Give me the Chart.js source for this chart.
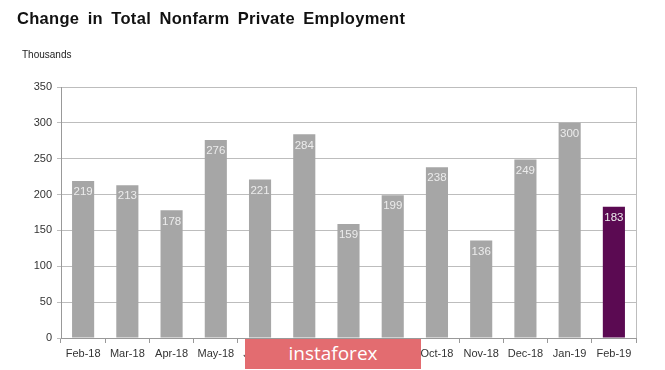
<!DOCTYPE html>
<html>
<head>
<meta charset="utf-8">
<script src="https://cdn.jsdelivr.net/npm/chart.js@4/dist/chart.umd.min.js"></script>
<style>
  html, body { margin: 0; padding: 0; background: #fff; }
  #wrap { position: relative; width: 665px; height: 370px; overflow: hidden; }
  #title { position: absolute; left: 17px; top: 9px; font: bold 16.5px "Liberation Sans", Arial, sans-serif; color: #111; letter-spacing: 0.3px; word-spacing: 3.5px; }
  #unit { position: absolute; left: 22px; top: 49px; font: 10px "Liberation Sans", Arial, sans-serif; color: #222; }
  #mark { position: absolute; left: 245px; top: 339px; width: 176px; height: 30px; background: #e36c70;
          color: #fff; font: 19px "Open Sans", "DejaVu Sans", sans-serif; text-align: center; line-height: 29px; }
</style>
</head>
<body>
<div id="wrap">
  <canvas id="grafico" width="665" height="370"></canvas>
  <div id="title">Change in Total Nonfarm Private Employment</div>
  <div id="unit">Thousands</div>
  <div id="mark">instaforex</div>
</div>
<script>
  // dados
  var meses = ['Feb-18', 'Mar-18', 'Apr-18', 'May-18', 'Jun-18', 'Jul-18', 'Aug-18',
               'Sep-18', 'Oct-18', 'Nov-18', 'Dec-18', 'Jan-19', 'Feb-19'];
  var valores = [219, 213, 178, 276, 221, 284, 159, 199, 238, 136, 249, 300, 183];
  var ticksY = [0, 50, 100, 150, 200, 250, 300, 350];

  var cores = valores.map(function (v, i) {
    return i === valores.length - 1 ? '#5b0a52' : '#a6a6a6';
  });

  // rótulos dentro das barras
  var rotulos = {
    id: 'rotulos',
    afterDatasetsDraw: function (chart) {
      var c = chart.ctx;
      var meta = chart.getDatasetMeta(0);
      c.save();
      c.font = '11.5px "Liberation Sans", Arial, sans-serif';
      c.fillStyle = '#ececec';
      c.textAlign = 'center';
      c.textBaseline = 'middle';
      meta.data.forEach(function (bar, i) {
        c.fillText(String(valores[i]), bar.x, bar.y + 11);
      });
      c.restore();
    }
  };

  var ctx = document.getElementById('grafico').getContext('2d');
  var grafico = new Chart(ctx, {
    type: 'bar',
    data: {
      labels: meses,
      datasets: [{
        data: valores,
        backgroundColor: cores,
        barPercentage: 0.5,
        categoryPercentage: 1
      }]
    },
    options: {
      responsive: false,
      animation: false,
      layout: { padding: { left: 0, top: 87, right: 29, bottom: 0 } },
      plugins: { legend: { display: false }, tooltip: { enabled: false } },
      scales: {
        x: {
          offset: true,
          afterFit: function (s) { s.height = 32; },
          grid: { offset: true, drawOnChartArea: false, color: '#999', tickLength: 5 },
          border: { color: '#999' },
          ticks: { color: '#333', font: { size: 11, family: '"Liberation Sans", Arial, sans-serif' }, maxRotation: 0, padding: 4 }
        },
        y: {
          min: 0,
          max: 350,
          afterFit: function (s) { s.width = 61; },
          afterBuildTicks: function (s) { s.ticks = ticksY.map(function (v) { return { value: v }; }); },
          grid: { color: '#bdbdbd', tickLength: 4 },
          border: { color: '#999' },
          ticks: { color: '#333', font: { size: 11, family: '"Liberation Sans", Arial, sans-serif' }, padding: 5 }
        }
      }
    },
    plugins: [rotulos, {
      id: 'bordaDireita',
      afterDraw: function (chart) {
        var a = chart.chartArea, c = chart.ctx;
        c.save();
        c.strokeStyle = '#bdbdbd';
        c.lineWidth = 1;
        c.beginPath();
        c.moveTo(Math.round(a.right) + 0.5, a.top);
        c.lineTo(Math.round(a.right) + 0.5, a.bottom);
        c.stroke();
        c.restore();
      }
    }]
  });
</script>
</body>
</html>
